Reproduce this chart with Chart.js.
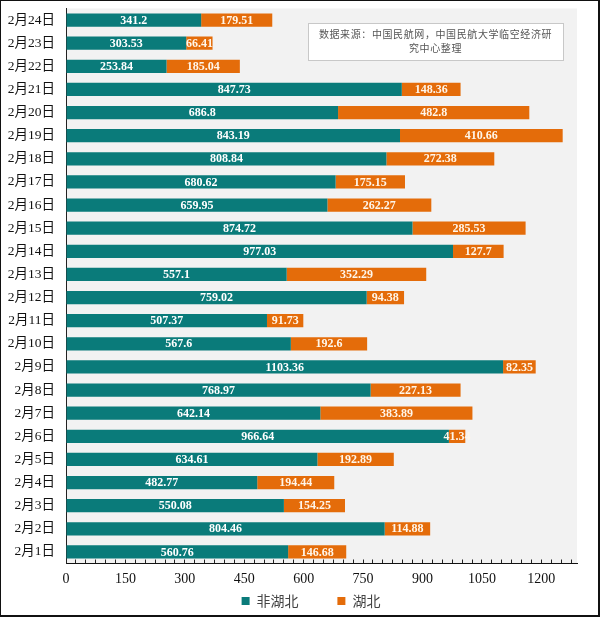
<!DOCTYPE html>
<html>
<head>
<meta charset="utf-8">
<script src="https://cdn.jsdelivr.net/npm/chart.js@4.4.0/dist/chart.umd.min.js"></script>
<style>
  html, body { margin: 0; padding: 0; background: #fff; }
  #frame { width: 600px; height: 617px; box-sizing: border-box; border: 1px solid #111; border-bottom-width: 2px; border-right-width: 2px; }
  #wrap { position: relative; width: 597px; height: 614px; }
</style>
</head>
<body>
<div id="frame"><div id="wrap"><canvas id="c"></canvas></div></div>
<script>
// 日期（从上到下）
const days = ['2月24日','2月23日','2月22日','2月21日','2月20日','2月19日','2月18日','2月17日',
  '2月16日','2月15日','2月14日','2月13日','2月12日','2月11日','2月10日','2月9日',
  '2月8日','2月7日','2月6日','2月5日','2月4日','2月3日','2月2日','2月1日'];

// 非湖北
const nonHubei = [341.2, 303.53, 253.84, 847.73, 686.8, 843.19, 808.84, 680.62,
  659.95, 874.72, 977.03, 557.1, 759.02, 507.37, 567.6, 1103.36,
  768.97, 642.14, 966.64, 634.61, 482.77, 550.08, 804.46, 560.76];

// 湖北
const hubei = [179.51, 66.41, 185.04, 148.36, 482.8, 410.66, 272.38, 175.15,
  262.27, 285.53, 127.7, 352.29, 94.38, 91.73, 192.6, 82.35,
  227.13, 383.89, 41.34, 192.89, 194.44, 154.25, 114.88, 146.68];

const xTickStep = 150;
const xMinorStep = 25;
const xMax = 1290;
const sourceLines = ['数据来源：中国民航网，中国民航大学临空经济研', '究中心整理'];

const TEAL = '#0a7b7a';
const ORANGE = '#e46c0a';
const SERIF = '"Liberation Serif", "Times New Roman", "Noto Sans CJK SC", serif';
const SANS = '"Noto Sans CJK SC", "Noto Sans", sans-serif';

// 绘图区灰色背景
const plotBg = {
  id: 'plotBg',
  beforeDraw(chart) {
    const { ctx, chartArea: a } = chart;
    ctx.save();
    ctx.fillStyle = '#f2f2f2';
    ctx.fillRect(a.left, a.top, a.right - a.left, a.bottom - a.top);
    ctx.restore();
  }
};

// 柱内数值标签
const barLabels = {
  id: 'barLabels',
  afterDatasetsDraw(chart) {
    const ctx = chart.ctx;
    ctx.save();
    ctx.font = 'bold 12px ' + SERIF;
    ctx.textAlign = 'center';
    ctx.textBaseline = 'middle';
    chart.data.datasets.forEach((ds, di) => {
      const meta = chart.getDatasetMeta(di);
      ctx.fillStyle = di === 0 ? '#ffffff' : '#fff6ea';
      meta.data.forEach((bar, i) => {
        const cx = (bar.x + bar.base) / 2;
        ctx.fillText(String(ds.data[i]), cx, bar.y + 0.5);
      });
    });
    ctx.restore();
  }
};

// 数据来源说明框
const sourceBox = {
  id: 'sourceBox',
  afterDraw(chart) {
    const ctx = chart.ctx;
    const x = 307, y = 22, w = 255, h = 37;
    ctx.save();
    ctx.fillStyle = '#ffffff';
    ctx.fillRect(x, y, w, h);
    ctx.strokeStyle = '#c8c8c8';
    ctx.lineWidth = 1;
    ctx.strokeRect(x + 0.5, y + 0.5, w, h);
    ctx.fillStyle = '#555555';
    ctx.font = '10px ' + SANS;
    ctx.letterSpacing = '0.6px';
    ctx.textAlign = 'center';
    ctx.textBaseline = 'middle';
    ctx.fillText(sourceLines[0], x + w / 2, y + 11);
    ctx.fillText(sourceLines[1], x + w / 2, y + 25);
    ctx.restore();
  }
};

new Chart(document.getElementById('c'), {
  type: 'bar',
  data: {
    labels: days,
    datasets: [
      { label: '非湖北', data: nonHubei, backgroundColor: TEAL },
      { label: '湖北', data: hubei, backgroundColor: ORANGE }
    ]
  },
  options: {
    indexAxis: 'y',
    responsive: true,
    maintainAspectRatio: false,
    animation: false,
    datasets: { bar: { barPercentage: 0.57, categoryPercentage: 1 } },
    layout: { padding: { top: 7.5, right: 21, left: 0, bottom: -3 } },
    scales: {
      x: {
        stacked: true,
        min: 0,
        max: xMax,
        afterBuildTicks(scale) {
          const t = [];
          for (let v = 0; v <= xMax; v += xMinorStep) t.push({ value: v });
          scale.ticks = t;
        },
        afterFit(scale) { scale.height = 29.5; },
        ticks: {
          autoSkip: false,
          maxRotation: 0,
          padding: 11,
          color: '#111',
          font: { family: SERIF, size: 14 },
          callback: (v) => (v % xTickStep === 0 ? String(v) : '')
        },
        grid: { drawOnChartArea: false, drawTicks: true, tickLength: -4, color: '#222' },
        border: { color: '#111', width: 1 }
      },
      y: {
        stacked: true,
        afterFit(scale) { scale.width = 65; },
        ticks: {
          padding: 0,
          color: '#111',
          font: { family: SERIF, size: 13.5, lineHeight: 1 }
        },
        grid: { display: true, drawOnChartArea: false, drawTicks: true, tickLength: 11, tickColor: 'rgba(0,0,0,0)' },
        border: { color: '#222', width: 1 }
      }
    },
    plugins: {
      legend: {
        position: 'bottom',
        fullSize: false,
        labels: {
          boxWidth: 8,
          boxHeight: 8,
          padding: 1,
          color: '#444',
          font: { family: SANS, size: 14 },
          generateLabels(chart) {
            const items = Chart.defaults.plugins.legend.labels.generateLabels(chart);
            items[0].text = items[0].text + '\u3000\u3000\u2002\u2009';
            items[1].text = items[1].text + '\u3000\u2002';
            return items;
          }
        }
      },
      tooltip: { enabled: false }
    }
  },
  plugins: [plotBg, barLabels, sourceBox]
});
</script>
</body>
</html>
